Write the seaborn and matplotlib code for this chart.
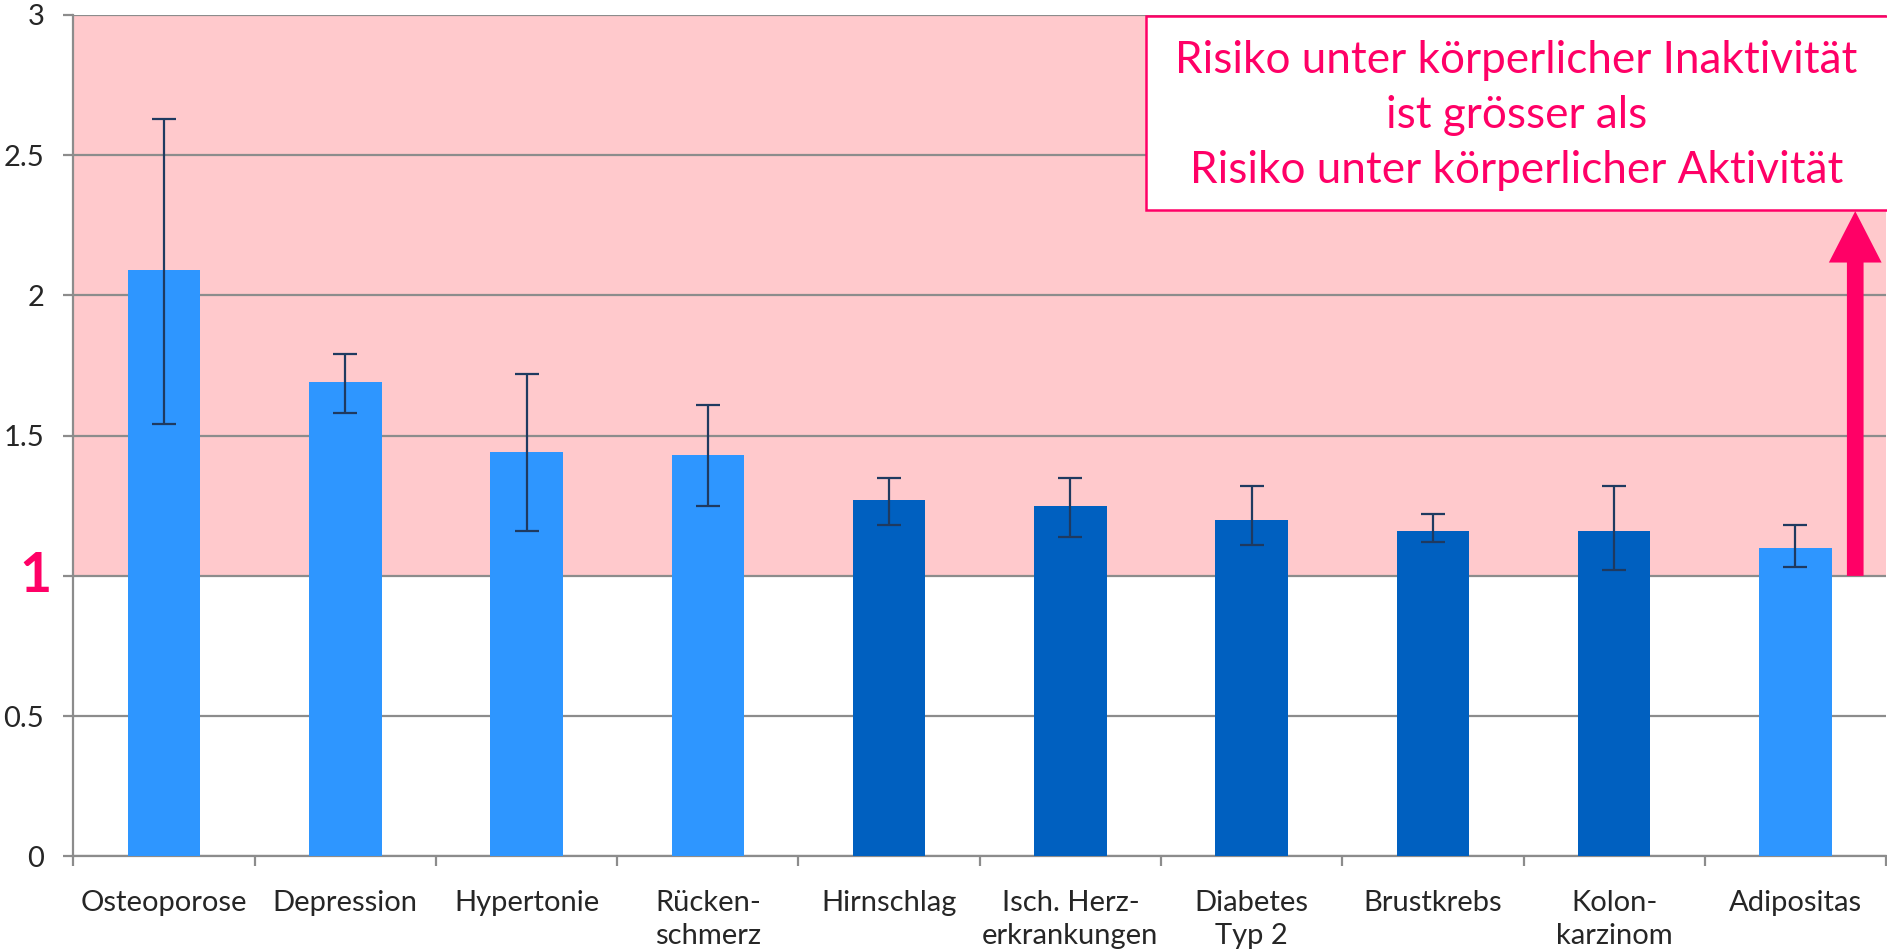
import matplotlib
matplotlib.use('Agg')
import numpy as np
import pandas as pd
import matplotlib.pyplot as plt
from matplotlib.patches import Rectangle
import seaborn as sns

sns.set_style('white')
plt.rcParams['font.family'] = ['Lato', 'DejaVu Sans']

# Data
categories = ['Osteoporose', 'Depression', 'Hypertonie', 'Rücken-\nschmerz', 'Hirnschlag',
              'Isch. Herz-\nerkrankungen', 'Diabetes\nTyp 2', 'Brustkrebs', 'Kolon-\nkarzinom', 'Adipositas']
risk = [2.09, 1.69, 1.44, 1.43, 1.27, 1.25, 1.20, 1.16, 1.16, 1.10]
ci_low = [1.54, 1.58, 1.16, 1.25, 1.18, 1.14, 1.11, 1.12, 1.02, 1.03]
ci_high = [2.63, 1.79, 1.72, 1.61, 1.35, 1.35, 1.32, 1.22, 1.32, 1.18]
group = ['light', 'light', 'light', 'light', 'dark', 'dark', 'dark', 'dark', 'dark', 'light']

df = pd.DataFrame({'cat': categories, 'risk': risk, 'lo': ci_low, 'hi': ci_high, 'group': group})

pink = '#FF0066'
colors = {'light': '#2E96FF', 'dark': '#0060C0'}

fig = plt.figure(figsize=(18.87, 9.51), dpi=100)
ax = fig.add_axes([0.0389, 0.0994, 0.9606, 0.8851])

# Shaded region above 1
ax.axhspan(1, 3, color='#FFC9CC', zorder=0, lw=0)

sns.barplot(data=df, x='cat', y='risk', hue='group', palette=colors, dodge=False,
            width=0.4, legend=False, ax=ax, zorder=3, saturation=1, linewidth=0)

# Error bars
x = np.arange(len(df))
ax.errorbar(x, df['risk'], yerr=[df['risk'] - df['lo'], df['hi'] - df['risk']],
            fmt='none', ecolor='#1F3A60', elinewidth=1.6, capsize=8.5, capthick=1.6, zorder=4)

ax.set_ylim(0, 3)
ax.set_xlim(-0.5, len(df) - 0.5)
ax.set_yticks([0, 0.5, 1, 1.5, 2, 2.5, 3])
ax.set_yticklabels(['0', '0.5', '', '1.5', '2', '2.5', '3'])
ax.yaxis.grid(True, color='#8C8C8C', lw=1.6, zorder=1)
ax.set_axisbelow(True)
ax.set_xlabel('')
ax.set_ylabel('')

for s in ['top', 'right']:
    ax.spines[s].set_visible(False)
for s in ['left', 'bottom']:
    ax.spines[s].set_color('#8C8C8C')
    ax.spines[s].set_linewidth(1.6)

ax.tick_params(axis='y', length=7, width=1.6, color='#8C8C8C', pad=14, labelsize=21, left=True)
ax.tick_params(axis='x', which='major', length=0, pad=24, labelsize=21)
ax.set_xticks(x)
ax.set_xticklabels(categories, linespacing=1.35, va='top')
ax.set_xticks(np.arange(-0.5, len(df)), minor=True)
ax.tick_params(axis='x', which='minor', length=7, width=1.6, color='#8C8C8C', bottom=True)

# Highlighted "1"
ax.text(-0.0118, 1, '1', transform=ax.get_yaxis_transform(), ha='right', va='center',
        color=pink, fontsize=40, fontweight='bold', clip_on=False)

# Annotation box
ax.add_patch(Rectangle((0.5918, 0.768), 0.42, 0.231, transform=ax.transAxes,
                       facecolor='white', edgecolor=pink, lw=1.8, zorder=5, clip_on=False))
ax.text(0.796, 0.88, 'Risiko unter körperlicher Inaktivität\nist grösser als\nRisiko unter körperlicher Aktivität',
        transform=ax.transAxes, ha='center', va='center', color=pink, fontsize=31.7,
        linespacing=1.42, zorder=6)

# Arrow
ax.annotate('', xy=(9.33, 2.30), xytext=(9.33, 1.0),
            arrowprops=dict(arrowstyle='simple,head_width=38,head_length=37,tail_width=12',
                            mutation_scale=1, color=pink, shrinkA=0, shrinkB=0, lw=0),
            zorder=6)

plt.savefig('out.png', dpi=100)
